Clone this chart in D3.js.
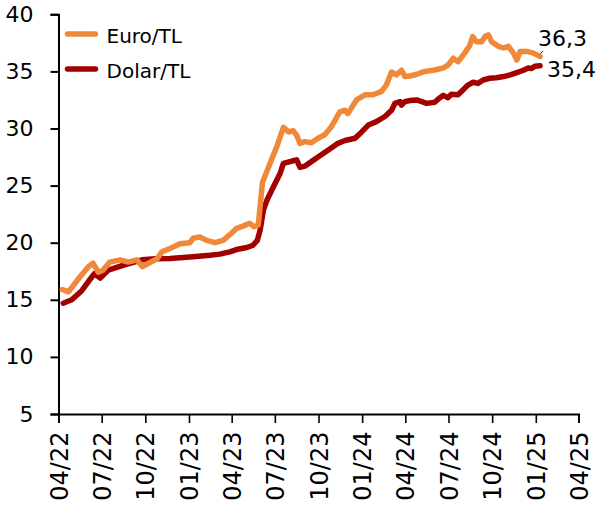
<!DOCTYPE html>
<html>
<head>
<meta charset="utf-8">
<script src="https://cdn.jsdelivr.net/npm/d3@7"></script>
<style>
  html, body { margin: 0; padding: 0; background: #fff; }
  svg { display: block; font-family: "DejaVu Sans", Verdana, sans-serif; }
</style>
</head>
<body>
<svg id="chart" width="599" height="510"></svg>
<script>
// ---- data ----
const seriesNames = ["Euro/TL", "Dolar/TL"];
const seriesColors = ["#F0883A", "#A30000"];
const endLabels = ["36,3", "35,4"];

const eurDates = [
  "2022-04-09","2022-04-22","2022-05-16","2022-06-03","2022-06-13","2022-06-24","2022-07-04","2022-07-18",
  "2022-08-09","2022-08-26","2022-09-13","2022-09-25","2022-10-08","2022-10-26","2022-11-05","2022-11-22",
  "2022-12-13","2023-01-03","2023-01-10","2023-01-24","2023-02-07","2023-02-25","2023-03-14","2023-03-28",
  "2023-04-11","2023-04-25","2023-05-09","2023-05-18","2023-05-27","2023-06-05","2023-06-21","2023-07-05",
  "2023-07-19","2023-07-30","2023-08-09","2023-08-16","2023-08-23","2023-09-02","2023-09-16","2023-09-30",
  "2023-10-14","2023-10-28","2023-11-15","2023-11-26","2023-12-02","2023-12-20","2024-01-07","2024-01-24",
  "2024-02-11","2024-02-21","2024-03-03","2024-03-13","2024-03-24","2024-03-31","2024-04-11","2024-04-25",
  "2024-05-12","2024-05-30","2024-06-20","2024-06-30","2024-07-11","2024-07-21","2024-08-04","2024-08-15",
  "2024-08-21","2024-08-29","2024-09-09","2024-09-16","2024-09-23","2024-09-30","2024-10-14","2024-10-25",
  "2024-11-04","2024-11-15","2024-11-22","2024-11-29","2024-12-13","2024-12-27","2025-01-10"
];
const eurValues = [
  15.9, 15.7, 17.0, 17.9, 18.2, 17.4, 17.6, 18.3,
  18.5, 18.3, 18.5, 17.9, 18.2, 18.6, 19.2, 19.5,
  19.9, 20.0, 20.4, 20.5, 20.2, 20.0, 20.2, 20.7,
  21.25, 21.45, 21.7, 21.4, 21.55, 25.3, 26.95, 28.4,
  30.1, 29.7, 29.8, 29.4, 28.7, 28.85, 28.75, 29.15,
  29.45, 30.15, 31.45, 31.6, 31.3, 32.5, 32.95, 32.95,
  33.25, 33.8, 34.95, 34.7, 35.1, 34.55, 34.6, 34.75,
  35.0, 35.1, 35.3, 35.55, 36.15, 35.85, 36.6, 37.3,
  38.05, 37.6, 37.6, 38.05, 38.2, 37.6, 37.2, 37.05,
  37.2, 36.6, 36.0, 36.75, 36.75, 36.6, 36.3
];

const usdDates = [
  "2022-04-11","2022-04-29","2022-05-20","2022-06-03","2022-06-16","2022-06-28","2022-07-15","2022-08-13",
  "2022-09-24","2022-10-22","2022-11-22","2023-01-03","2023-02-14","2023-03-07","2023-03-28","2023-04-11",
  "2023-05-03","2023-05-16","2023-05-25","2023-05-31","2023-06-07","2023-06-14","2023-06-28","2023-07-12",
  "2023-07-19","2023-08-06","2023-08-16","2023-08-23","2023-09-02","2023-09-16","2023-09-30","2023-10-21",
  "2023-11-11","2023-11-26","2023-12-17","2023-12-31","2024-01-14","2024-01-31","2024-02-18","2024-03-03",
  "2024-03-10","2024-03-21","2024-03-24","2024-03-31","2024-04-11","2024-04-25","2024-05-16","2024-06-02",
  "2024-06-13","2024-06-20","2024-06-30","2024-07-07","2024-07-21","2024-08-01","2024-08-11","2024-08-22",
  "2024-09-01","2024-09-12","2024-09-26","2024-10-10","2024-10-25","2024-11-08","2024-11-22","2024-12-06",
  "2024-12-16","2024-12-23","2024-12-30","2025-01-10"
];
const usdValues = [
  14.7, 15.0, 15.8, 16.6, 17.3, 16.9, 17.6, 18.0,
  18.5, 18.6, 18.62, 18.75, 18.9, 19.0, 19.2, 19.4,
  19.58, 19.78, 20.2, 21.1, 22.85, 23.7, 24.9, 26.05,
  26.95, 27.15, 27.25, 26.6, 26.7, 27.1, 27.5, 28.1,
  28.7, 28.95, 29.15, 29.7, 30.3, 30.6, 31.05, 31.6,
  32.2, 32.35, 32.05, 32.35, 32.45, 32.5, 32.2, 32.3,
  32.7, 32.9, 32.7, 33.0, 32.95, 33.4, 33.8, 34.05,
  33.95, 34.25, 34.4, 34.45, 34.55, 34.7, 34.9, 35.1,
  35.3, 35.25, 35.45, 35.5
];

const yTicks = [5, 10, 15, 20, 25, 30, 35, 40];
const xTickLabels = ["04/22","07/22","10/22","01/23","04/23","07/23","10/23","01/24","04/24","07/24","10/24","01/25","04/25"];
const xDomain = ["2022-04-01", "2025-04-01"];

(function () {
  // ---- layout ----
  const svg = d3.select("#chart");
  const mLeft = 58.5, mRight = 578.5, mTop = 14.3, mBottom = 414;
  const parse = d3.timeParse("%Y-%m-%d");

  const x = d3.scaleTime().domain(xDomain.map(parse)).range([mLeft, mRight]);
  const y = d3.scaleLinear().domain([5, 40]).range([mBottom, mTop]);

  const xTickDates = xTickLabels.map(s => {
    const [m, yy] = s.split("/");
    return new Date(2000 + +yy, +m - 1, 1);
  });

  // axes
  const yAxis = svg.append("g")
    .attr("transform", `translate(${mLeft},0)`)
    .call(d3.axisLeft(y).tickValues(yTicks).tickSize(8).tickPadding(17).tickFormat(d3.format("d")));
  yAxis.selectAll("text").attr("font-size", 22).attr("fill", "#000").attr("font-family", "DejaVu Sans, sans-serif");

  const xAxis = svg.append("g")
    .attr("transform", `translate(0,${mBottom})`)
    .call(d3.axisBottom(x).tickValues(xTickDates).tickSize(9)
      .tickFormat((d, i) => xTickLabels[i]));
  xAxis.selectAll("text")
    .attr("font-size", 24).attr("fill", "#000").attr("font-family", "DejaVu Sans, sans-serif")
    .attr("transform", "rotate(-90)")
    .attr("text-anchor", "end")
    .attr("x", -17.5).attr("y", 0).attr("dy", "0.36em");

  [yAxis, xAxis].forEach(a => {
    a.select(".domain").attr("stroke", "#000").attr("stroke-width", 2);
    a.selectAll(".tick line").attr("stroke", "#000").attr("stroke-width", 2);
  });
  xAxis.selectAll(".tick line").attr("stroke-width", 1.6);

  // lines
  const line = d3.line().x(d => x(d[0])).y(d => y(d[1])).curve(d3.curveLinear);
  const series = [
    eurDates.map((d, i) => [parse(d), eurValues[i]]),
    usdDates.map((d, i) => [parse(d), usdValues[i]])
  ];

  [1, 0].forEach(k => {
    svg.append("path")
      .datum(series[k])
      .attr("d", line)
      .attr("fill", "none")
      .attr("stroke", seriesColors[k])
      .attr("stroke-width", 5.5)
      .attr("stroke-linejoin", "round")
      .attr("stroke-linecap", "round");
  });

  // end labels
  const eLast = series[0][series[0].length - 1];
  const uLast = series[1][series[1].length - 1];
  svg.append("text")
    .attr("x", x(eLast[0]) - 2).attr("y", y(eLast[1]) - 11)
    .attr("font-size", 22).attr("fill", "#000")
    .text(endLabels[0]);
  svg.append("line")
    .attr("x1", x(eLast[0]) + 0.5).attr("y1", y(eLast[1]) - 3)
    .attr("x2", x(eLast[0]) + 3).attr("y2", y(eLast[1]) - 5.5)
    .attr("stroke", "#000").attr("stroke-width", 1);
  svg.append("text")
    .attr("x", x(uLast[0]) + 7).attr("y", y(uLast[1]) + 11)
    .attr("font-size", 22).attr("fill", "#000")
    .text(endLabels[1]);

  // legend
  const legendY = [34, 69];
  seriesNames.forEach((name, i) => {
    svg.append("line")
      .attr("x1", 67.5).attr("x2", 95.5)
      .attr("y1", legendY[i]).attr("y2", legendY[i])
      .attr("stroke", seriesColors[i]).attr("stroke-width", 5.5)
      .attr("stroke-linecap", "round");
    svg.append("text")
      .attr("x", 106.5).attr("y", legendY[i] + 9)
      .attr("font-size", 20).attr("fill", "#000")
      .text(name);
  });
})();
</script>
</body>
</html>
